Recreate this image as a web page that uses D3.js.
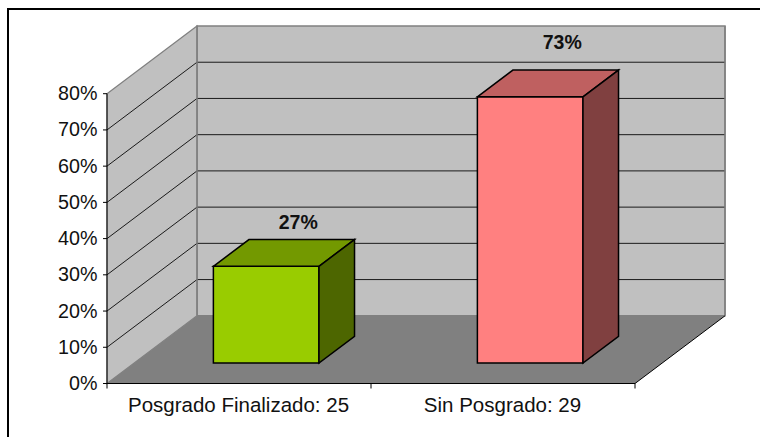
<!DOCTYPE html>
<html><head><meta charset="utf-8">
<script src="https://cdnjs.cloudflare.com/ajax/libs/d3/7.8.5/d3.min.js"></script>
<style>html,body{margin:0;padding:0;background:#fff;overflow:hidden}svg{display:block}text{font-family:"Liberation Sans",Arial,sans-serif;fill:#111}</style>
</head><body><svg id="c" width="760" height="437"></svg>
<script>
const categories = ["Posgrado Finalizado: 25", "Sin Posgrado: 29"];
const barValues = [26.7, 73.5];
const barLabels = ["27%", "73%"];
const barFront = ["#99cc00", "#ff8080"];
const barTop = ["#739900", "#bf6060"];
const barSide = ["#4d6600", "#804040"];
const ticks = [0, 10, 20, 30, 40, 50, 60, 70, 80];

const svg = d3.select("#c");
const W = 760, H = 437;
const x = d3.scaleBand().domain(categories).range([107, 635]).paddingInner(0.6).paddingOuter(0.3);
const xEdge = d3.scaleLinear().domain([0, 1]).range([107, 635]);
const y = d3.scaleLinear().domain([0, 80]).range([383.5, 93.7]);
const dx = d3.scaleLinear().domain([0, 1]).range([0, 90]);
const dy = d3.scaleLinear().domain([0, 1]).range([0, -67.7]);
const P = (px, py, d) => [px + dx(d), py + dy(d)];
const poly = pts => "M" + pts.map(p => p.join(",")).join("L") + "Z";
const D0 = 0.302, D1 = 0.697;

svg.append("rect").attr("x", 8).attr("y", 9).attr("width", W + 20).attr("height", H + 20)
  .attr("fill", "#fff").attr("stroke", "#000").attr("stroke-width", 2);

const L = xEdge(0), R = xEdge(1), T = y(80), B = y(0);
svg.append("path").attr("d", poly([P(L, T, 1), P(R, T, 1), P(R, B, 1), P(L, B, 1)]))
  .attr("fill", "#c0c0c0").attr("stroke", "#808080").attr("stroke-width", 1.5);
svg.append("path").attr("d", poly([P(L, T, 0), P(L, T, 1), P(L, B, 1), P(L, B, 0)]))
  .attr("fill", "#c0c0c0").attr("stroke", "#808080").attr("stroke-width", 1.2);
svg.append("path").attr("d", poly([P(L, B, 0), P(L, B, 1), P(R, B, 1), P(R, B, 0)]))
  .attr("fill", "#808080").attr("stroke", "none");

ticks.filter(t => t > 0 && t < 80).forEach(t => {
  const a = P(L, y(t), 0), b = P(L, y(t), 1), c = P(R, y(t), 1);
  svg.append("path").attr("d", `M${a}L${b}L${c}`).attr("fill", "none")
    .attr("stroke", "#1a1a1a").attr("stroke-width", 1);
});
svg.append("line").attr("x1", P(L, T, 1)[0]).attr("x2", P(L, T, 1)[0])
  .attr("y1", P(L, T, 1)[1]).attr("y2", P(L, B, 1)[1]).attr("stroke", "#808080").attr("stroke-width", 1.5);
svg.append("line").attr("x1", P(R, T, 1)[0]).attr("x2", P(R, T, 1)[0])
  .attr("y1", P(R, T, 1)[1]).attr("y2", P(R, B, 1)[1]).attr("stroke", "#808080").attr("stroke-width", 1.5);
svg.append("path").attr("d", `M${P(R, B, 0)}L${P(R, B, 1)}`).attr("stroke", "#000").attr("stroke-width", 1);
svg.append("path").attr("d", `M${P(L, T, 0)}L${P(L, B, 0)}L${P(R, B, 0)}`).attr("fill", "none").attr("stroke", "#000").attr("stroke-width", 1);

ticks.forEach(t => {
  svg.append("line").attr("x1", L - 4).attr("x2", L).attr("y1", y(t)).attr("y2", y(t)).attr("stroke", "#000");
  svg.append("text").attr("x", 97.5).attr("y", y(t) + 6.5).attr("text-anchor", "end")
    .attr("font-size", 19.7).text(t + "%");
});
[0, 0.5, 1].forEach(f => {
  svg.append("line").attr("x1", xEdge(f)).attr("x2", xEdge(f)).attr("y1", B).attr("y2", B + 5).attr("stroke", "#000");
});
categories.forEach(c => {
  svg.append("text").attr("x", xEdge(categories.indexOf(c) * 0.5 + 0.25) - 0.5).attr("y", 411.5).attr("text-anchor", "middle")
    .attr("font-size", 20.5).text(c);
});

const labelLift = [11, 21.5];
categories.forEach((c, i) => {
  const x0 = x(c), x1 = x0 + x.bandwidth(), yT = y(barValues[i]), yB = y(0);
  const g = svg.append("g").attr("stroke", "#000").attr("stroke-width", 1.5).attr("stroke-linejoin", "miter");
  g.append("path").attr("d", poly([P(x0, yT, D0), P(x1, yT, D0), P(x1, yB, D0), P(x0, yB, D0)])).attr("fill", barFront[i]);
  g.append("path").attr("d", poly([P(x0, yT, D0), P(x0, yT, D1), P(x1, yT, D1), P(x1, yT, D0)])).attr("fill", barTop[i]);
  g.append("path").attr("d", poly([P(x1, yT, D0), P(x1, yT, D1), P(x1, yB, D1), P(x1, yB, D0)])).attr("fill", barSide[i]);
  const top = P((x0 + x1) / 2, yT, D1);
  svg.append("text").attr("x", top[0] - 3.5).attr("y", top[1] - labelLift[i]).attr("text-anchor", "middle")
    .attr("font-size", 19.5).attr("font-weight", "bold").text(barLabels[i]);
});
</script></body></html>
